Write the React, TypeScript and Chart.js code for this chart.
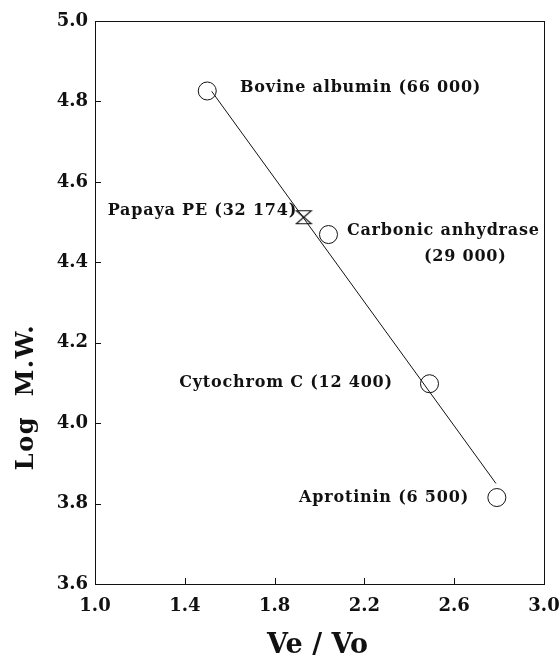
import React, { useEffect, useRef } from "react";
import { Chart, registerables } from "chart.js";

Chart.register(...registerables);

// Standard proteins (Ve/Vo vs Log M.W.)
const standardVeVo = [1.5, 2.04, 2.49, 2.79];
const standardLogMW = [4.826, 4.469, 4.098, 3.815];
// Sample: Papaya PE
const sampleVeVo = [1.93];
const sampleLogMW = [4.512];
// Regression line end points
const fitVeVo = [1.52, 2.786];
const fitLogMW = [4.825, 3.85];

// Annotation texts, anchored in data coordinates
const labelTexts = [
  "Bovine albumin (66 000)",
  "Papaya PE (32 174)",
  "Carbonic anhydrase",
  "(29 000)",
  "Cytochrom C (12 400)",
  "Aprotinin (6 500)",
];
const labelX = [1.646, 1.9, 2.122, 2.465, 2.327, 2.666];
const labelY = [4.833, 4.527, 4.479, 4.413, 4.099, 3.815];
const labelAlign: CanvasTextAlign[] = ["left", "right", "left", "left", "right", "right"];

const xTickValues = [1.0, 1.4, 1.8, 2.2, 2.6, 3.0];
const yTickValues = [3.6, 3.8, 4.0, 4.2, 4.4, 4.6, 4.8, 5.0];

const FONT = '"DejaVu Serif", "Liberation Serif", serif';
const INK = "#111111";

function makeHourglass(): HTMLCanvasElement {
  const c = document.createElement("canvas");
  c.width = 18;
  c.height = 16;
  const g = c.getContext("2d")!;
  g.strokeStyle = INK;
  g.lineWidth = 1.1;
  g.beginPath();
  g.moveTo(1.5, 1.5);
  g.lineTo(16.5, 1.5);
  g.lineTo(1.5, 14.5);
  g.lineTo(16.5, 14.5);
  g.closePath();
  g.stroke();
  return c;
}

const decorPlugin = {
  id: "decor",
  afterDraw(chart: any) {
    const { ctx, chartArea, scales } = chart;
    const xs = scales.x;
    const ys = scales.y;
    ctx.save();
    ctx.strokeStyle = INK;
    ctx.lineWidth = 1;
    // frame
    ctx.strokeRect(
      Math.round(chartArea.left) + 0.5,
      Math.round(chartArea.top) + 0.5,
      Math.round(chartArea.right - chartArea.left),
      Math.round(chartArea.bottom - chartArea.top)
    );
    // inward ticks
    ctx.beginPath();
    xTickValues.forEach((v) => {
      const px = Math.round(xs.getPixelForValue(v)) + 0.5;
      ctx.moveTo(px, chartArea.bottom);
      ctx.lineTo(px, chartArea.bottom - 6);
    });
    yTickValues.forEach((v) => {
      const py = Math.round(ys.getPixelForValue(v)) + 0.5;
      ctx.moveTo(chartArea.left, py);
      ctx.lineTo(chartArea.left + 6, py);
    });
    ctx.stroke();

    // annotations
    ctx.fillStyle = INK;
    ctx.font = `bold 16px ${FONT}`;
    (ctx as any).letterSpacing = "0.8px";
    ctx.textBaseline = "middle";
    labelTexts.forEach((t, i) => {
      ctx.textAlign = labelAlign[i];
      ctx.fillText(t, xs.getPixelForValue(labelX[i]), ys.getPixelForValue(labelY[i]));
    });

    // axis titles
    (ctx as any).letterSpacing = "0px";
    ctx.font = `bold 27px ${FONT}`;
    ctx.textAlign = "center";
    ctx.textBaseline = "alphabetic";
    ctx.fillText("Ve / Vo", (chartArea.left + chartArea.right) / 2 - 2, 653);

    ctx.save();
    ctx.translate(33, 397);
    ctx.rotate(-Math.PI / 2);
    ctx.font = `bold 24px ${FONT}`;
    (ctx as any).letterSpacing = "1.5px";
    ctx.textAlign = "center";
    ctx.fillText("Log  M.W.", 0, 0);
    ctx.restore();

    ctx.restore();
  },
};

export default function App() {
  const ref = useRef<HTMLCanvasElement | null>(null);

  useEffect(() => {
    document.body.style.margin = "0";
    const canvas = ref.current!;
    const hourglass = makeHourglass();
    const chart = new Chart(canvas, {
      type: "scatter",
      data: {
        datasets: [
          {
            label: "fit",
            data: fitVeVo.map((x, i) => ({ x, y: fitLogMW[i] })),
            showLine: true,
            borderColor: INK,
            borderWidth: 1,
            pointRadius: 0,
            fill: false,
          },
          {
            label: "standards",
            data: standardVeVo.map((x, i) => ({ x, y: standardLogMW[i] })),
            pointStyle: "circle",
            pointRadius: 9,
            borderColor: INK,
            borderWidth: 1,
            backgroundColor: "rgba(0,0,0,0)",
          },
          {
            label: "Papaya PE",
            data: sampleVeVo.map((x, i) => ({ x, y: sampleLogMW[i] })),
            pointStyle: hourglass as any,
            pointRadius: 8,
          },
        ],
      },
      options: {
        responsive: false,
        animation: false,
        devicePixelRatio: 1,
        layout: { padding: { left: 0, right: 16, top: 21, bottom: 0 } },
        plugins: { legend: { display: false }, tooltip: { enabled: false } },
        scales: {
          x: {
            type: "linear",
            min: 1.0,
            max: 3.0,
            afterBuildTicks: (s: any) => {
              s.ticks = xTickValues.map((v) => ({ value: v }));
            },
            afterFit: (s: any) => {
              s.height = 73;
              s.paddingLeft = 0;
              s.paddingRight = 0;
            },
            grid: { display: false, drawTicks: false },
            border: { display: false },
            ticks: {
              color: INK,
              padding: 12,
              font: { family: FONT, size: 18, weight: "bold" },
              callback: (v: any) => Number(v).toFixed(1),
              maxRotation: 0,
            },
          },
          y: {
            type: "linear",
            min: 3.6,
            max: 5.0,
            afterBuildTicks: (s: any) => {
              s.ticks = yTickValues.map((v) => ({ value: v }));
            },
            afterFit: (s: any) => {
              s.width = 95;
              s.paddingTop = 0;
              s.paddingBottom = 0;
            },
            grid: { display: false, drawTicks: false },
            border: { display: false },
            ticks: {
              color: INK,
              padding: 7,
              font: { family: FONT, size: 18, weight: "bold" },
              callback: (v: any) => Number(v).toFixed(1),
            },
          },
        },
      },
      plugins: [decorPlugin],
    });
    return () => chart.destroy();
  }, []);

  return (
    <div style={{ width: 560, height: 657 }}>
      <canvas ref={ref} width={560} height={657} style={{ display: "block" }} />
    </div>
  );
}
